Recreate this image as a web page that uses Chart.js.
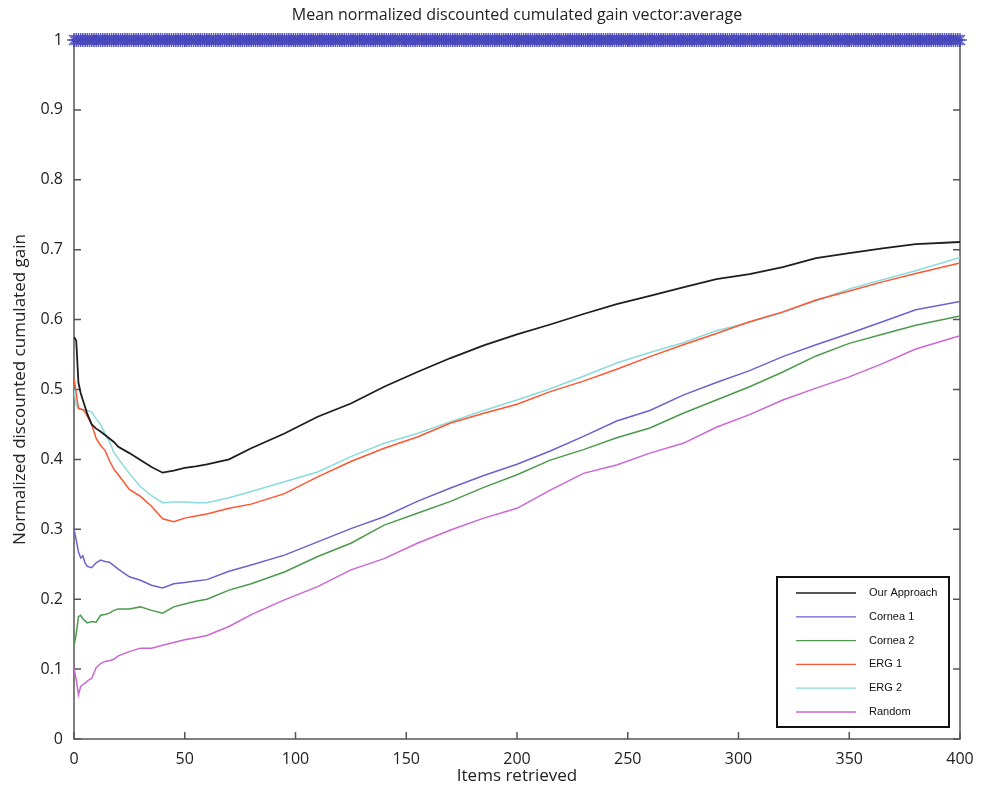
<!DOCTYPE html>
<html>
<head>
<meta charset="utf-8">
<script src="https://cdn.jsdelivr.net/npm/chart.js@4.4.0/dist/chart.umd.min.js"></script>
<style>
  html, body { margin: 0; padding: 0; background: #fff; }
</style>
</head>
<body>
<canvas id="myChart" width="989" height="795"></canvas>
<script>
var itemsRetrieved = [0, 1, 2, 3, 4, 5, 6, 8, 10, 12, 14, 16, 18, 20, 25, 30, 35, 40, 45, 50, 55, 60,
    70, 80, 95, 110, 125, 140, 155, 170, 185, 200, 215, 230, 245, 260, 275, 290, 305, 320, 335, 350, 365, 380, 400];

var ourApproach = [0.575, 0.570, 0.510, 0.495, 0.485, 0.475, 0.465, 0.450, 0.444, 0.440, 0.435, 0.430, 0.425, 0.418,
    0.409, 0.399, 0.389, 0.381, 0.384, 0.388, 0.390, 0.393, 0.400, 0.416, 0.437, 0.461, 0.480, 0.504, 0.525, 0.545,
    0.563, 0.579, 0.593, 0.608, 0.622, 0.634, 0.646, 0.658, 0.665, 0.675, 0.688, 0.695, 0.702, 0.708, 0.711];

var cornea1 = [0.300, 0.285, 0.268, 0.259, 0.262, 0.252, 0.247, 0.245, 0.252, 0.256, 0.254, 0.253, 0.248, 0.243,
    0.232, 0.227, 0.220, 0.216, 0.222, 0.224, 0.226, 0.228, 0.240, 0.249, 0.263, 0.282, 0.301, 0.318, 0.340, 0.359,
    0.377, 0.393, 0.412, 0.433, 0.455, 0.470, 0.492, 0.510, 0.527, 0.547, 0.564, 0.580, 0.597, 0.614, 0.626];

var cornea2 = [0.134, 0.150, 0.175, 0.177, 0.172, 0.169, 0.166, 0.168, 0.167, 0.177, 0.178, 0.180, 0.184, 0.186,
    0.186, 0.189, 0.184, 0.180, 0.189, 0.193, 0.197, 0.200, 0.213, 0.222, 0.239, 0.261, 0.280, 0.306, 0.323, 0.340,
    0.360, 0.378, 0.399, 0.414, 0.431, 0.445, 0.466, 0.485, 0.504, 0.525, 0.548, 0.566, 0.579, 0.592, 0.605];

var erg1 = [0.516, 0.495, 0.473, 0.472, 0.471, 0.468, 0.462, 0.450, 0.430, 0.420, 0.413, 0.398, 0.386, 0.378,
    0.357, 0.347, 0.333, 0.315, 0.311, 0.316, 0.319, 0.322, 0.330, 0.336, 0.351, 0.375, 0.397, 0.416, 0.432, 0.452,
    0.466, 0.479, 0.497, 0.512, 0.529, 0.547, 0.564, 0.580, 0.597, 0.611, 0.628, 0.641, 0.654, 0.666, 0.681];

var erg2 = [0.500, 0.478, 0.473, 0.472, 0.471, 0.471, 0.470, 0.468, 0.458, 0.450, 0.437, 0.425, 0.410, 0.401,
    0.380, 0.361, 0.348, 0.338, 0.339, 0.339, 0.338, 0.338, 0.345, 0.354, 0.368, 0.382, 0.404, 0.423, 0.437, 0.454,
    0.470, 0.485, 0.501, 0.519, 0.538, 0.553, 0.567, 0.584, 0.596, 0.610, 0.627, 0.644, 0.657, 0.670, 0.689];

var randomRank = [0.101, 0.085, 0.063, 0.075, 0.078, 0.080, 0.083, 0.087, 0.102, 0.108, 0.111, 0.112, 0.114, 0.119,
    0.125, 0.130, 0.130, 0.134, 0.138, 0.142, 0.145, 0.148, 0.161, 0.178, 0.199, 0.218, 0.242, 0.258, 0.280, 0.299,
    0.316, 0.330, 0.356, 0.380, 0.392, 0.409, 0.423, 0.446, 0.464, 0.485, 0.502, 0.518, 0.537, 0.558, 0.577];

// ideal ranking: gain is 1 at every item 0..400 (the row of blue stars)
var idealItems = [];
for (var i = 0; i <= 400; i++) idealItems.push(i);
var idealGain = idealItems.map(function () { return 1; });

var xTicks = [0, 50, 100, 150, 200, 250, 300, 350, 400];
var yTicks = [0, 0.1, 0.2, 0.3, 0.4, 0.5, 0.6, 0.7, 0.8, 0.9, 1];

function toPoints(xs, ys) {
    return xs.map(function (x, i) { return { x: x, y: ys[i] }; });
}

function lineSet(label, values, color, width) {
    return {
        label: label,
        data: toPoints(itemsRetrieved, values),
        borderColor: color,
        backgroundColor: color,
        borderWidth: width,
        pointRadius: 0,
        tension: 0,
        fill: false
    };
}

var titleFont = '"Open Sans", "DejaVu Sans", sans-serif';

// MATLAB-like box with inward ticks
var matlabFrame = {
    id: 'matlabFrame',
    beforeDatasetsDraw: function (chart) {
        var ctx = chart.ctx, a = chart.chartArea;
        var xs = chart.scales.x, ys = chart.scales.y;
        ctx.save();
        ctx.strokeStyle = '#555';
        ctx.lineWidth = 1.5;
        ctx.strokeRect(a.left, a.top, a.right - a.left, a.bottom - a.top);
        ctx.beginPath();
        xs.ticks.forEach(function (t) {
            var px = xs.getPixelForValue(t.value);
            ctx.moveTo(px, a.bottom); ctx.lineTo(px, a.bottom - 7);
            ctx.moveTo(px, a.top); ctx.lineTo(px, a.top + 7);
        });
        ys.ticks.forEach(function (t) {
            var py = ys.getPixelForValue(t.value);
            ctx.moveTo(a.left, py); ctx.lineTo(a.left + 7, py);
            ctx.moveTo(a.right, py); ctx.lineTo(a.right - 7, py);
        });
        ctx.stroke();
        ctx.restore();
    },
    afterDatasetsDraw: function (chart) {
        // legend box in the lower right corner
        var ctx = chart.ctx, a = chart.chartArea;
        var boxW = 172, boxH = 150;
        var left = a.right - 183, top = a.bottom - 162;
        ctx.save();
        ctx.fillStyle = '#fff';
        ctx.fillRect(left, top, boxW, boxH);
        ctx.strokeStyle = '#111';
        ctx.lineWidth = 2;
        ctx.strokeRect(left, top, boxW, boxH);
        ctx.font = '11px "Liberation Sans", Arial, sans-serif';
        ctx.textBaseline = 'middle';
        ctx.textAlign = 'left';
        var row = 0;
        chart.data.datasets.forEach(function (ds) {
            if (ds.hideInLegend) return;
            var y = top + 16 + row * 23.8;
            ctx.strokeStyle = ds.borderColor;
            ctx.lineWidth = 1.3;
            ctx.beginPath();
            ctx.moveTo(left + 19, y);
            ctx.lineTo(left + 79, y);
            ctx.stroke();
            ctx.fillStyle = '#111';
            ctx.fillText(ds.label, left + 92, y);
            row++;
        });
        ctx.restore();
    },
    afterDraw: function (chart) {
        var ctx = chart.ctx, a = chart.chartArea;
        ctx.save();
        ctx.font = '16px ' + titleFont;
        ctx.fillStyle = '#222';
        ctx.textAlign = 'center';
        ctx.textBaseline = 'middle';
        ctx.fillText('Mean normalized discounted cumulated gain vector:average', (a.left + a.right) / 2, 15);
        ctx.restore();
    }
};

var ctx = document.getElementById('myChart').getContext('2d');
var myChart = new Chart(ctx, {
    type: 'line',
    data: {
        datasets: [
            {
                label: 'Ideal',
                hideInLegend: true,
                data: toPoints(idealItems, idealGain),
                showLine: false,
                pointStyle: 'star',
                pointRadius: 7,
                pointBorderWidth: 1.5,
                pointBorderColor: 'rgba(72, 72, 188, 0.9)',
                pointBackgroundColor: 'rgba(72, 72, 188, 0.9)',
                borderColor: 'rgba(72, 72, 188, 0.9)',
                clip: false
            },
            lineSet('Our Approach', ourApproach, '#1e1e1e', 1.8),
            lineSet('Cornea 1', cornea1, '#6b62cc', 1.5),
            lineSet('Cornea 2', cornea2, '#4c9a4c', 1.5),
            lineSet('ERG 1', erg1, '#ff5530', 1.5),
            lineSet('ERG 2', erg2, '#8adcdc', 1.5),
            lineSet('Random', randomRank, '#cc66d4', 1.5)
        ]
    },
    options: {
        responsive: false,
        animation: false,
        devicePixelRatio: 1,
        layout: { padding: { top: 40, right: 29, left: 0, bottom: 0 } },
        plugins: {
            legend: { display: false },
            title: { display: false },
            tooltip: { enabled: false }
        },
        scales: {
            x: {
                type: 'linear',
                min: 0,
                max: 400,
                afterBuildTicks: function (scale) {
                    scale.ticks = xTicks.map(function (v) { return { value: v }; });
                },
                grid: { display: false, drawTicks: false },
                border: { display: false },
                ticks: { color: '#222', padding: 11, font: { family: titleFont, size: 16 }, maxRotation: 0 },
                title: {
                    display: true,
                    text: 'Items retrieved',
                    color: '#222',
                    font: { family: titleFont, size: 17 },
                    padding: { top: 0, bottom: 9 }
                },
                afterFit: function (scale) { scale.height = 56; }
            },
            y: {
                min: 0,
                max: 1,
                afterBuildTicks: function (scale) {
                    scale.ticks = yTicks.map(function (v) { return { value: v }; });
                },
                grid: { display: false, drawTicks: false },
                border: { display: false },
                ticks: {
                    color: '#222',
                    padding: 11,
                    font: { family: titleFont, size: 16 },
                    callback: function (value) { return String(Math.round(value * 10) / 10); }
                },
                title: {
                    display: true,
                    text: 'Normalized discounted cumulated gain',
                    color: '#222',
                    font: { family: titleFont, size: 17 },
                    padding: { top: 10, bottom: 0 }
                },
                afterFit: function (scale) { scale.width = 74; }
            }
        }
    },
    plugins: [matlabFrame]
});
</script>
</body>
</html>
